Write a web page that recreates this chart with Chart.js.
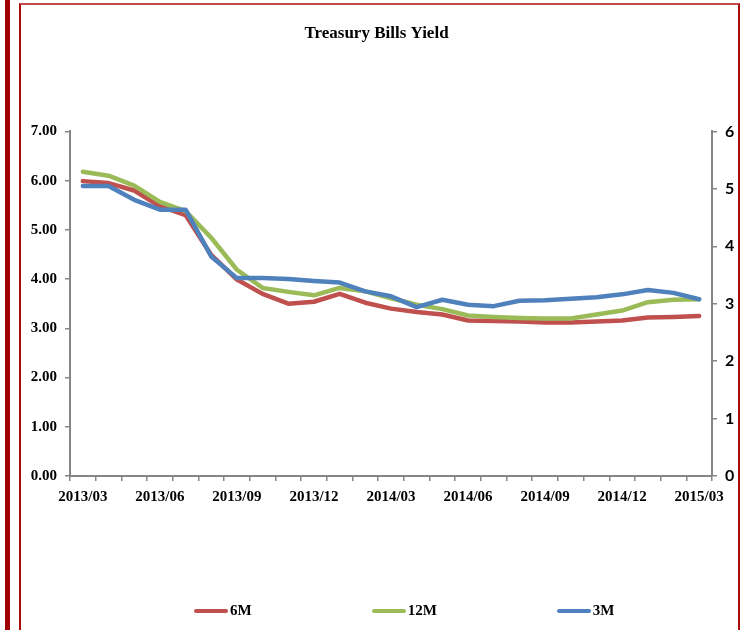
<!DOCTYPE html>
<html>
<head>
<meta charset="utf-8">
<script src="https://cdn.jsdelivr.net/npm/chart.js@4.4.1/dist/chart.umd.min.js"></script>
<style>
  html, body { margin: 0; padding: 0; background: #fff; }
  #wrap { position: relative; width: 753px; height: 630px; overflow: hidden; background: #fff; }
  #bar { position: absolute; left: 5px; top: 0; width: 5px; height: 630px; background: #a00000; }
  #frame { position: absolute; left: 19px; top: 3px; width: 717px; height: 700px;
           border-left: 2px solid #a80c0c; border-right: 2px solid #a80c0c; border-top: 2px solid #c24a4a; }
  #cv { position: absolute; left: 0; top: 0; }
  #legend { position: absolute; left: 194px; top: 602px; display: flex; gap: 120px; align-items: center;
            font-family: "Liberation Serif", serif; font-weight: bold; font-size: 15px; color: #000; }
  .item { display: flex; align-items: center; }
  .mk { width: 34px; height: 4px; border-radius: 2px; margin-right: 2px; }
</style>
</head>
<body>
<div id="wrap">
  <div id="bar"></div>
  <div id="frame"></div>
  <canvas id="cv" width="753" height="630"></canvas>
  <div id="legend"></div>
</div>
<script>
const categories = ["2013/03","2013/04","2013/05","2013/06","2013/07","2013/08","2013/09","2013/10","2013/11","2013/12",
  "2014/01","2014/02","2014/03","2014/04","2014/05","2014/06","2014/07","2014/08","2014/09","2014/10","2014/11","2014/12",
  "2015/01","2015/02","2015/03"];
const yield6M  = [5.99,5.95,5.80,5.48,5.30,4.49,3.99,3.70,3.50,3.54,3.70,3.52,3.40,3.33,3.28,3.16,3.15,3.14,3.12,3.12,3.14,3.16,3.22,3.23,3.25];
const yield12M = [6.18,6.10,5.90,5.57,5.38,4.84,4.19,3.82,3.74,3.67,3.82,3.75,3.61,3.48,3.39,3.26,3.23,3.21,3.20,3.20,3.28,3.36,3.53,3.58,3.59];
const yield3M  = [5.89,5.89,5.61,5.41,5.41,4.46,4.02,4.02,4.00,3.96,3.93,3.75,3.65,3.43,3.58,3.48,3.45,3.56,3.57,3.60,3.63,3.69,3.78,3.72,3.59];
const seriesNames = ["6M","12M","3M"];
const seriesColors = ["#C0504D","#9BBB59","#4F81BD"];
const leftTicks = [0,1,2,3,4,5,6,7];
const rightTicks = [0,1,2,3,4,5,6];

const serif = "'Liberation Serif', 'Times New Roman', serif";
const axisGray = "#868686";

const datasets = [yield6M, yield12M, yield3M].map((d, i) => ({
  label: seriesNames[i],
  data: d,
  borderColor: seriesColors[i],
  backgroundColor: seriesColors[i],
  borderWidth: 4.5,
  pointRadius: 0,
  pointHoverRadius: 0,
  tension: 0,
  fill: false,
  borderJoinStyle: 'round',
  borderCapStyle: 'round',
  yAxisID: 'y',
  order: 3 - i
}));

const chart = new Chart(document.getElementById('cv'), {
  type: 'line',
  data: { labels: categories, datasets: datasets },
  options: {
    responsive: false,
    animation: false,
    devicePixelRatio: 1,
    layout: { padding: { left: 0, right: 0, top: 0, bottom: 0 } },
    plugins: {
      legend: { display: false },
      tooltip: { enabled: false },
      title: {
        display: true,
        text: 'Treasury Bills Yield',
        color: '#000',
        font: { family: serif, size: 17, weight: 'bold' },
        padding: { top: 23, bottom: 88 }
      }
    },
    scales: {
      x: {
        type: 'category',
        offset: true,
        grid: { display: true, offset: true, drawOnChartArea: false, drawTicks: true, tickLength: 5, color: axisGray, lineWidth: 1.5 },
        border: { display: true, color: axisGray, width: 2 },
        ticks: {
          autoSkip: false, maxRotation: 0, minRotation: 0, padding: 7,
          color: '#000', font: { family: serif, size: 15, weight: 'bold' },
          callback: function(v, i) { return i % 3 === 0 ? categories[i] : ''; }
        },
        afterFit: function(s) { s.height = 630 - 476; }
      },
      y: {
        position: 'left',
        min: 0, max: 7,
        afterBuildTicks: function(s) { s.ticks = leftTicks.map(v => ({ value: v })); },
        grid: { display: true, drawOnChartArea: false, drawTicks: true, tickLength: 5, color: axisGray, lineWidth: 1.5 },
        border: { display: true, color: axisGray, width: 2 },
        ticks: {
          padding: 8, color: '#000', font: { family: serif, size: 15, weight: 'bold' },
          callback: function(v) { return Number(v).toFixed(2); }
        },
        afterFit: function(s) { s.width = 70; }
      },
      y2: {
        position: 'right',
        min: 0, max: 6,
        afterBuildTicks: function(s) { s.ticks = rightTicks.map(v => ({ value: v })); },
        grid: { display: true, drawOnChartArea: false, drawTicks: true, tickLength: 5, color: axisGray, lineWidth: 1.5 },
        border: { display: true, color: axisGray, width: 2 },
        ticks: {
          padding: 8, color: '#000', font: { family: "Lato, 'Liberation Sans', sans-serif", size: 16, weight: 'bold' },
          callback: function(v) { return String(v); }
        },
        afterFit: function(s) { s.width = 41; }
      }
    }
  }
});

// HTML legend built from the chart's datasets
const lg = document.getElementById('legend');
chart.data.datasets.forEach(ds => {
  const it = document.createElement('div'); it.className = 'item';
  const mk = document.createElement('span'); mk.className = 'mk'; mk.style.background = ds.borderColor;
  const tx = document.createElement('span'); tx.textContent = ds.label;
  it.appendChild(mk); it.appendChild(tx); lg.appendChild(it);
});
</script>
</body>
</html>
